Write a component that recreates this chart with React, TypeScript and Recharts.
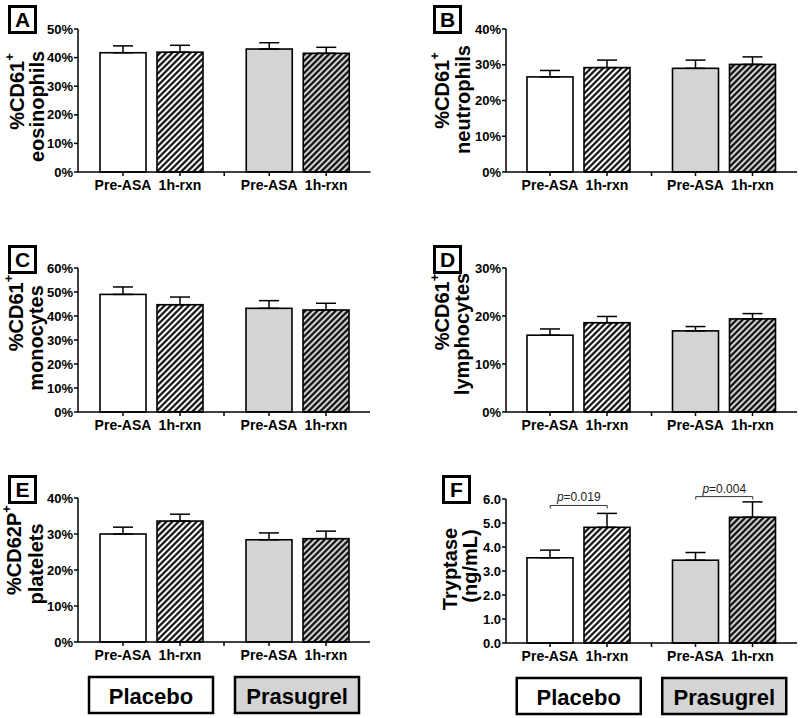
import React from 'react'
import { BarChart, Bar, XAxis, YAxis, ErrorBar, Cell, ReferenceDot } from 'recharts'

const FONT = '"Liberation Sans", Arial, Helvetica, sans-serif'

const groups = ['Placebo', 'Prasugrel']
const timepoints = ['Pre-ASA', '1h-rxn']

// A: %CD61+ eosinophils
const eosPre = [41.7, 43.0]
const eosPreSem = [2.4, 2.2]
const eosRxn = [41.9, 41.5]
const eosRxnSem = [2.4, 2.1]

// B: %CD61+ neutrophils
const neuPre = [26.6, 29.0]
const neuPreSem = [1.8, 2.3]
const neuRxn = [29.2, 30.1]
const neuRxnSem = [2.1, 2.1]

// C: %CD61+ monocytes
const monoPre = [49.0, 43.2]
const monoPreSem = [3.1, 3.2]
const monoRxn = [44.7, 42.5]
const monoRxnSem = [3.2, 2.8]

// D: %CD61+ lymphocytes
const lymPre = [16.0, 16.9]
const lymPreSem = [1.3, 0.9]
const lymRxn = [18.6, 19.4]
const lymRxnSem = [1.3, 1.1]

// E: %CD62P+ platelets
const pltPre = [30.0, 28.4]
const pltPreSem = [1.9, 1.9]
const pltRxn = [33.6, 28.7]
const pltRxnSem = [1.9, 2.1]

// F: tryptase (ng/mL)
const tryPre = [3.55, 3.45]
const tryPreSem = [0.32, 0.32]
const tryRxn = [4.82, 5.24]
const tryRxnSem = [0.58, 0.64]
const tryPValues = ['0.019', '0.004']
const tryBracketAt = [5.73, 6.1]

const ticksA = [0, 10, 20, 30, 40, 50]
const ticksB = [0, 10, 20, 30, 40]
const ticksC = [0, 10, 20, 30, 40, 50, 60]
const ticksD = [0, 10, 20, 30]
const ticksE = [0, 10, 20, 30, 40]
const ticksF = [0, 1, 2, 3, 4, 5, 6]

const groupFill = ['#ffffff', '#d4d4d4']
const hatchFill = ['url(#hatchWhite)', 'url(#hatchGray)']

const BAR_W = 46
const BAR_GAP = 11
const TOP = 24
const PAD_L = 14

const pct = (v: number) => `${v}%`
const dec = (v: number) => v.toFixed(1)

function rows(pre: number[], preSem: number[], rxn: number[], rxnSem: number[]) {
  return groups.map((g, i) => ({
    group: g,
    pre: pre[i],
    preErr: [0, preSem[i]],
    rxn: rxn[i],
    rxnErr: [0, rxnSem[i]],
  }))
}

type Line = { text: string; sup?: string; dx: number; dy: number }

function AxisTitle({ viewBox, lines }: any) {
  const vb = viewBox || { x: 0, y: 0, width: 0, height: 0 }
  const ax = vb.x + vb.width
  const cy = vb.y + vb.height / 2
  return (
    <g>
      {lines.map((l: Line, i: number) => (
        <text
          key={i}
          transform={`translate(${ax + l.dx},${cy + l.dy}) rotate(-90)`}
          textAnchor="middle"
          dominantBaseline="central"
          fontSize={20}
          fontWeight="bold"
          fontFamily={FONT}
          fill="#000"
        >
          {l.text}
          {l.sup && <tspan fontSize={13} dy={-8}>{l.sup}</tspan>}
        </text>
      ))}
    </g>
  )
}

function BarWithTick(props: any) {
  const { x, y, width, height, fill, tickText } = props
  const base = y + height
  const cx = x + width / 2
  return (
    <g>
      <rect x={x} y={y} width={width} height={height} fill={fill} stroke="#000" strokeWidth={1.6} />
      <line x1={cx} x2={cx} y1={base} y2={base + 4} stroke="#000" strokeWidth={1.5} />
      <text x={cx} y={base + 18} textAnchor="middle" fontSize={14} fontWeight="bold" fontFamily={FONT} fill="#000">
        {tickText}
      </text>
    </g>
  )
}

function GroupTick(props: any) {
  const { x, payload, index, axisY, half, boxed } = props
  return (
    <g>
      {index === 0 && (
        <line x1={x + half} x2={x + half} y1={axisY} y2={axisY + 4} stroke="#000" strokeWidth={1.5} />
      )}
      {boxed && (
        <g>
          <rect x={x - 62} y={axisY + 35} width={124} height={36} fill={groupFill[index]} stroke="#000" strokeWidth={2.5} />
          <text x={x} y={axisY + 54} textAnchor="middle" dominantBaseline="central" fontSize={22} fontWeight="bold" fontFamily={FONT} fill="#000">
            {payload.value}
          </text>
        </g>
      )}
    </g>
  )
}

function PBracket({ cx, cy, text }: any) {
  const span = (BAR_W + BAR_GAP) / 2
  return (
    <g>
      <path d={`M${cx - span},${cy + 3}V${cy}H${cx + span}V${cy + 3}`} stroke="#333" strokeWidth={1} fill="none" />
      <text x={cx} y={cy - 4} textAnchor="middle" fontSize={12} fontFamily={FONT} fill="#222">
        <tspan fontStyle="italic">p</tspan>={text}
      </text>
    </g>
  )
}

type PanelProps = {
  letter: string
  letterPos: [number, number]
  axisX: number
  top: number
  bottom: number
  right: number
  data: any[]
  ticks: number[]
  fmt: (v: number) => string
  title: Line[]
  boxed?: boolean
  pValues?: string[]
  bracketAt?: number[]
}

function Panel(p: PanelProps) {
  const left = p.axisX - 78 - PAD_L
  const plotH = p.bottom - p.top
  const xh = p.boxed ? 76 : 30
  const width = p.right + 3 - left
  const height = TOP + plotH + xh
  const half = (p.right - p.axisX) / 4
  return (
    <>
      <div style={{ position: 'absolute', left, top: p.top - TOP }}>
        <BarChart width={width} height={height} data={p.data} margin={{ top: TOP, right: 3, bottom: 0, left: PAD_L }} barGap={BAR_GAP}>
          <XAxis
            dataKey="group"
            height={xh}
            interval={0}
            tickLine={false}
            axisLine={{ stroke: '#000', strokeWidth: 1.5 }}
            tick={(t: any) => <GroupTick {...t} axisY={TOP + plotH} half={half} boxed={p.boxed} />}
          />
          <YAxis
            width={78}
            domain={[0, p.ticks[p.ticks.length - 1]]}
            ticks={p.ticks}
            interval={0}
            tickFormatter={p.fmt}
            tickSize={4}
            tickMargin={1}
            axisLine={{ stroke: '#000', strokeWidth: 1.5 }}
            tickLine={{ stroke: '#000', strokeWidth: 1.5 }}
            tick={{ fill: '#000', fontSize: 13, fontWeight: 'bold', fontFamily: FONT }}
            label={(lp: any) => <AxisTitle {...lp} lines={p.title} />}
          />
          <Bar
            dataKey="pre"
            barSize={BAR_W}
            isAnimationActive={false}
            shape={(s: any) => <BarWithTick {...s} tickText={timepoints[0]} />}
          >
            {p.data.map((_, i) => (
              <Cell key={i} fill={groupFill[i]} />
            ))}
            <ErrorBar dataKey="preErr" width={10} stroke="#000" strokeWidth={1.5} isAnimationActive={false} />
          </Bar>
          <Bar
            dataKey="rxn"
            barSize={BAR_W}
            isAnimationActive={false}
            shape={(s: any) => <BarWithTick {...s} tickText={timepoints[1]} />}
          >
            {p.data.map((_, i) => (
              <Cell key={i} fill={hatchFill[i]} />
            ))}
            <ErrorBar dataKey="rxnErr" width={10} stroke="#000" strokeWidth={1.5} isAnimationActive={false} />
          </Bar>
          {p.pValues &&
            groups.map((g, i) => (
              <ReferenceDot
                key={g}
                x={g}
                y={p.bracketAt![i]}
                ifOverflow="visible"
                shape={(d: any) => <PBracket cx={d.cx} cy={d.cy} text={p.pValues![i]} />}
              />
            ))}
        </BarChart>
      </div>
      <div
        style={{
          position: 'absolute', left: p.letterPos[0], top: p.letterPos[1], width: 29, height: 29,
          border: '3px solid #000', boxSizing: 'border-box', display: 'flex', alignItems: 'center',
          justifyContent: 'center', fontFamily: FONT, fontWeight: 'bold', fontSize: 21, background: '#fff',
        }}
      >
        {p.letter}
      </div>
    </>
  )
}

export default function App() {
  return (
    <div style={{ position: 'absolute', left: 0, top: 0, width: 800, height: 718, overflow: 'hidden', background: '#fff' }}>
      <svg width={0} height={0} style={{ position: 'absolute' }}>
        <defs>
          <pattern id="hatchWhite" patternUnits="userSpaceOnUse" width={4.3} height={4.3} patternTransform="rotate(45)">
            <rect width={4.3} height={4.3} fill="#fff" />
            <line x1={2.15} y1={0} x2={2.15} y2={4.3} stroke="#000" strokeWidth={2.1} />
          </pattern>
          <pattern id="hatchGray" patternUnits="userSpaceOnUse" width={4.3} height={4.3} patternTransform="rotate(45)">
            <rect width={4.3} height={4.3} fill="#d4d4d4" />
            <line x1={2.15} y1={0} x2={2.15} y2={4.3} stroke="#000" strokeWidth={2.1} />
          </pattern>
        </defs>
      </svg>
      <Panel
        letter="A" letterPos={[8, 5]} axisX={77.5} top={29} bottom={172} right={370}
        data={rows(eosPre, eosPreSem, eosRxn, eosRxnSem)} ticks={ticksA} fmt={pct}
        title={[{ text: '%CD61', sup: '+', dx: -61.5, dy: -9 }, { text: 'eosinophils', dx: -41.5, dy: 6 }]}
      />
      <Panel
        letter="B" letterPos={[433, 5]} axisX={506} top={29} bottom={172} right={797}
        data={rows(neuPre, neuPreSem, neuRxn, neuRxnSem)} ticks={ticksB} fmt={pct}
        title={[{ text: '%CD61', sup: '+', dx: -64, dy: -10 }, { text: 'neutrophils', dx: -43, dy: -1 }]}
      />
      <Panel
        letter="C" letterPos={[8, 245]} axisX={78} top={268} bottom={412} right={370}
        data={rows(monoPre, monoPreSem, monoRxn, monoRxnSem)} ticks={ticksC} fmt={pct}
        title={[{ text: '%CD61', sup: '+', dx: -62, dy: -27 }, { text: 'monocytes', dx: -42, dy: -2 }]}
      />
      <Panel
        letter="D" letterPos={[433, 245]} axisX={506} top={268} bottom={412} right={797}
        data={rows(lymPre, lymPreSem, lymRxn, lymRxnSem)} ticks={ticksD} fmt={pct}
        title={[{ text: '%CD61', sup: '+', dx: -64.5, dy: -28 }, { text: 'lymphocytes', dx: -44, dy: -6 }]}
      />
      <Panel
        letter="E" letterPos={[8, 475]} axisX={78} top={498} bottom={642} right={370}
        data={rows(pltPre, pltPreSem, pltRxn, pltRxnSem)} ticks={ticksE} fmt={pct} boxed
        title={[{ text: '%CD62P', sup: '+', dx: -64, dy: -20 }, { text: 'platelets', dx: -42, dy: -6 }]}
      />
      <Panel
        letter="F" letterPos={[442, 475]} axisX={506} top={499} bottom={643} right={797}
        data={rows(tryPre, tryPreSem, tryRxn, tryRxnSem)} ticks={ticksF} fmt={dec} boxed
        pValues={tryPValues} bracketAt={tryBracketAt}
        title={[{ text: 'Tryptase', dx: -56, dy: -2 }, { text: '(ng/mL)', dx: -36, dy: -5 }]}
      />
    </div>
  )
}
